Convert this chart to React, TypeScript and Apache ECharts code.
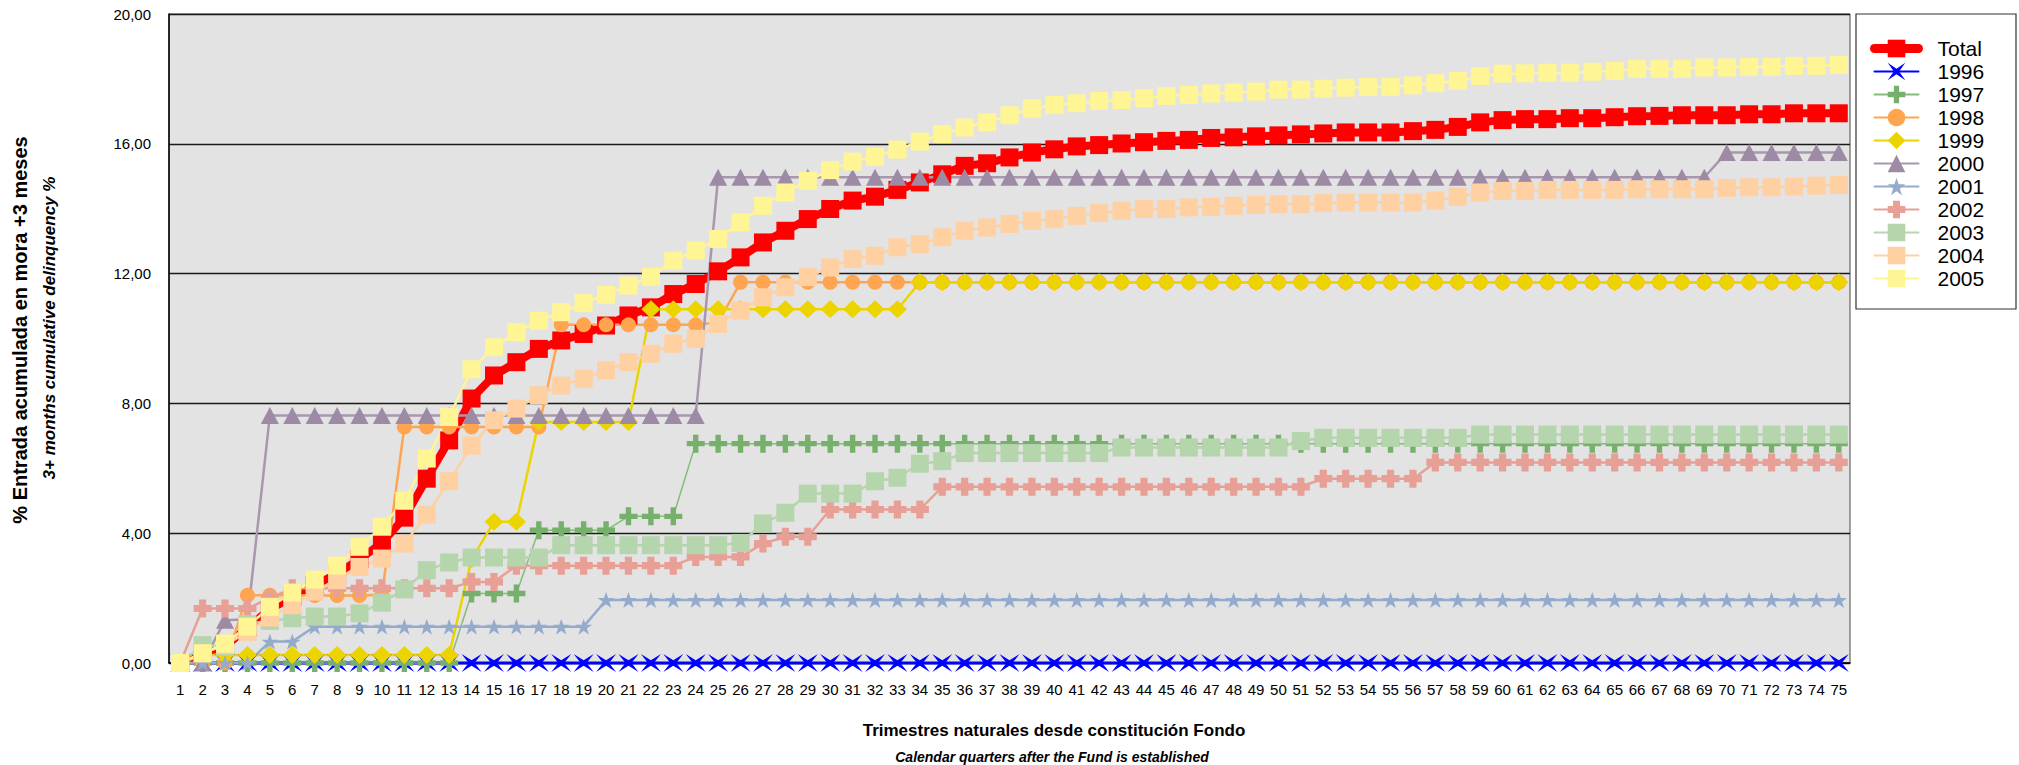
import React, { useEffect, useRef } from "react";
import * as echarts from "echarts";

const quarters = [
  "1","2","3","4","5","6","7","8","9","10","11","12","13","14","15","16","17","18","19","20",
  "21","22","23","24","25","26","27","28","29","30","31","32","33","34","35","36","37","38","39","40",
  "41","42","43","44","45","46","47","48","49","50","51","52","53","54","55","56","57","58","59","60",
  "61","62","63","64","65","66","67","68","69","70","71","72","73","74","75",
];

const yTicks = [0, 4, 8, 12, 16, 20];

const seriesNames = ["Total","1996","1997","1998","1999","2000","2001","2002","2003","2004","2005"];

const total = [
  0, 0.3, 0.5, 1.1, 1.65, 2.05, 2.4, 2.75, 3.2, 3.7,
  4.48, 5.68, 6.86, 8.15, 8.86, 9.27, 9.68, 9.94, 10.14, 10.4,
  10.71, 10.96, 11.37, 11.68, 12.07, 12.5, 12.96, 13.32, 13.68, 13.99,
  14.25, 14.37, 14.58, 14.81, 15.06, 15.32, 15.4, 15.58, 15.73, 15.83,
  15.92, 15.96, 16.01, 16.05, 16.09, 16.12, 16.18, 16.2, 16.23, 16.26,
  16.29, 16.32, 16.35, 16.35, 16.35, 16.39, 16.43, 16.52, 16.66, 16.73,
  16.76, 16.76, 16.79, 16.79, 16.82, 16.85, 16.86, 16.88, 16.88, 16.88,
  16.91, 16.91, 16.94, 16.94, 16.94,
];

const y1996 = [
  0, 0, 0, 0, 0, 0, 0, 0, 0, 0,
  0, 0, 0, 0, 0, 0, 0, 0, 0, 0,
  0, 0, 0, 0, 0, 0, 0, 0, 0, 0,
  0, 0, 0, 0, 0, 0, 0, 0, 0, 0,
  0, 0, 0, 0, 0, 0, 0, 0, 0, 0,
  0, 0, 0, 0, 0, 0, 0, 0, 0, 0,
  0, 0, 0, 0, 0, 0, 0, 0, 0, 0,
  0, 0, 0, 0, 0,
];

const y1997 = [
  0, 0, 0, 0, 0, 0, 0, 0, 0, 0,
  0, 0, 0, 2.14, 2.14, 2.14, 4.09, 4.09, 4.09, 4.09,
  4.52, 4.52, 4.52, 6.76, 6.76, 6.76, 6.76, 6.76, 6.76, 6.76,
  6.76, 6.76, 6.76, 6.76, 6.76, 6.76, 6.76, 6.76, 6.76, 6.76,
  6.76, 6.76, 6.76, 6.76, 6.76, 6.76, 6.76, 6.76, 6.76, 6.76,
  6.76, 6.76, 6.76, 6.76, 6.76, 6.76, 6.76, 6.76, 6.76, 6.76,
  6.76, 6.76, 6.76, 6.76, 6.76, 6.76, 6.76, 6.76, 6.76, 6.76,
  6.76, 6.76, 6.76, 6.76, 6.76,
];

const y1998 = [
  0, 0, 0, 2.09, 2.09, 2.09, 2.08, 2.08, 2.08, 2.1,
  7.27, 7.27, 7.27, 7.27, 7.27, 7.27, 7.27, 10.42, 10.42, 10.42,
  10.42, 10.42, 10.42, 10.42, 10.5, 11.73, 11.73, 11.73, 11.73, 11.73,
  11.73, 11.73, 11.73, 11.73, 11.73, 11.73, 11.73, 11.73, 11.73, 11.73,
  11.73, 11.73, 11.73, 11.73, 11.73, 11.73, 11.73, 11.73, 11.73, 11.73,
  11.73, 11.73, 11.73, 11.73, 11.73, 11.73, 11.73, 11.73, 11.73, 11.73,
  11.73, 11.73, 11.73, 11.73, 11.73, 11.73, 11.73, 11.73, 11.73, 11.73,
  11.73, 11.73, 11.73, 11.73, 11.73,
];

const y1999 = [
  0, 0.25, 0.25, 0.25, 0.25, 0.25, 0.25, 0.25, 0.25, 0.25,
  0.25, 0.25, 0.25, 3.2, 4.35, 4.35, 7.43, 7.43, 7.43, 7.43,
  7.43, 10.9, 10.9, 10.9, 10.9, 10.9, 10.9, 10.9, 10.9, 10.9,
  10.9, 10.9, 10.9, 11.73, 11.73, 11.73, 11.73, 11.73, 11.73, 11.73,
  11.73, 11.73, 11.73, 11.73, 11.73, 11.73, 11.73, 11.73, 11.73, 11.73,
  11.73, 11.73, 11.73, 11.73, 11.73, 11.73, 11.73, 11.73, 11.73, 11.73,
  11.73, 11.73, 11.73, 11.73, 11.73, 11.73, 11.73, 11.73, 11.73, 11.73,
  11.73, 11.73, 11.73, 11.73, 11.73,
];

const y2000 = [
  0, 0, 1.32, 1.35, 7.63, 7.63, 7.63, 7.63, 7.63, 7.63,
  7.63, 7.63, 7.63, 7.63, 7.63, 7.63, 7.63, 7.63, 7.63, 7.63,
  7.63, 7.63, 7.63, 7.63, 14.97, 14.97, 14.97, 14.97, 14.97, 14.97,
  14.97, 14.97, 14.97, 14.97, 14.97, 14.97, 14.97, 14.97, 14.97, 14.97,
  14.97, 14.97, 14.97, 14.97, 14.97, 14.97, 14.97, 14.97, 14.97, 14.97,
  14.97, 14.97, 14.97, 14.97, 14.97, 14.97, 14.97, 14.97, 14.97, 14.97,
  14.97, 14.97, 14.97, 14.97, 14.97, 14.97, 14.97, 14.97, 14.97, 15.73,
  15.73, 15.73, 15.73, 15.73, 15.73,
];

const y2001 = [
  0, 0, 0, 0, 0.66, 0.66, 1.12, 1.12, 1.12, 1.12,
  1.12, 1.12, 1.12, 1.12, 1.12, 1.12, 1.12, 1.12, 1.12, 1.94,
  1.94, 1.94, 1.94, 1.94, 1.94, 1.94, 1.94, 1.94, 1.94, 1.94,
  1.94, 1.94, 1.94, 1.94, 1.94, 1.94, 1.94, 1.94, 1.94, 1.94,
  1.94, 1.94, 1.94, 1.94, 1.94, 1.94, 1.94, 1.94, 1.94, 1.94,
  1.94, 1.94, 1.94, 1.94, 1.94, 1.94, 1.94, 1.94, 1.94, 1.94,
  1.94, 1.94, 1.94, 1.94, 1.94, 1.94, 1.94, 1.94, 1.94, 1.94,
  1.94, 1.94, 1.94, 1.94, 1.94,
];

const y2002 = [
  0, 1.68, 1.68, 1.68, 2.0, 2.3, 2.3, 2.3, 2.3, 2.3,
  2.3, 2.3, 2.3, 2.5, 2.5, 3.0, 3.0, 3.0, 3.0, 3.0,
  3.0, 3.0, 3.0, 3.27, 3.27, 3.27, 3.68, 3.89, 3.89, 4.73,
  4.73, 4.73, 4.73, 4.73, 5.43, 5.43, 5.43, 5.43, 5.43, 5.43,
  5.43, 5.43, 5.43, 5.43, 5.43, 5.43, 5.43, 5.43, 5.43, 5.43,
  5.43, 5.68, 5.68, 5.68, 5.68, 5.68, 6.18, 6.18, 6.18, 6.18,
  6.18, 6.18, 6.18, 6.18, 6.18, 6.18, 6.18, 6.18, 6.18, 6.18,
  6.18, 6.18, 6.18, 6.18, 6.18,
];

const y2003 = [
  0, 0.55, 0.5, 1.2, 1.3, 1.38, 1.43, 1.43, 1.53, 1.86,
  2.27, 2.86, 3.1, 3.25, 3.25, 3.25, 3.25, 3.63, 3.63, 3.63,
  3.63, 3.63, 3.63, 3.63, 3.63, 3.7, 4.3, 4.63, 5.22, 5.22,
  5.22, 5.6, 5.71, 6.14, 6.22, 6.47, 6.47, 6.47, 6.47, 6.47,
  6.47, 6.47, 6.64, 6.64, 6.64, 6.64, 6.64, 6.64, 6.64, 6.64,
  6.84, 6.94, 6.94, 6.94, 6.94, 6.94, 6.94, 6.94, 7.04, 7.04,
  7.04, 7.04, 7.04, 7.04, 7.04, 7.04, 7.04, 7.04, 7.04, 7.04,
  7.04, 7.04, 7.04, 7.04, 7.04,
];

const y2004 = [
  0, 0.3, 0.55, 0.96, 1.4, 1.78, 2.2, 2.55, 2.96, 3.22,
  3.68, 4.57, 5.6, 6.7, 7.48, 7.84, 8.25, 8.55, 8.76, 9.02,
  9.27, 9.53, 9.84, 9.99, 10.45, 10.86, 11.27, 11.58, 11.89, 12.19,
  12.45, 12.55, 12.81, 12.91, 13.12, 13.32, 13.42, 13.53, 13.63, 13.68,
  13.78, 13.87, 13.94, 13.99, 13.99, 14.04, 14.06, 14.09, 14.12, 14.14,
  14.14, 14.17, 14.19, 14.19, 14.19, 14.19, 14.25, 14.37, 14.5, 14.55,
  14.55, 14.58, 14.58, 14.58, 14.58, 14.6, 14.6, 14.6, 14.6, 14.64,
  14.66, 14.66, 14.68, 14.71, 14.73,
];

const y2005 = [
  0, 0.3, 0.6, 1.12, 1.73, 2.17, 2.57, 3.0, 3.58, 4.2,
  5.0, 6.3, 7.58, 9.05, 9.73, 10.19, 10.55, 10.81, 11.09, 11.35,
  11.63, 11.9, 12.4, 12.71, 13.07, 13.58, 14.09, 14.5, 14.86, 15.19,
  15.45, 15.6, 15.82, 16.07, 16.3, 16.5, 16.66, 16.88, 17.09, 17.2,
  17.25, 17.32, 17.35, 17.4, 17.47, 17.51, 17.55, 17.58, 17.61, 17.67,
  17.67, 17.7, 17.73, 17.75, 17.76, 17.8, 17.87, 17.94, 18.09, 18.16,
  18.17, 18.19, 18.19, 18.22, 18.25, 18.31, 18.31, 18.31, 18.35, 18.35,
  18.37, 18.37, 18.4, 18.4, 18.43,
];

const SYM_XSTAR = "path://M0,0L10,7L20,0L13,10L20,20L10,13L0,20L7,10Z";
const SYM_CROSS = "path://M7,0H13V7H20V13H13V20H7V13H0V7H7Z";
const SYM_FATCROSS = "path://M6,0H14V6H20V14H14V20H6V14H0V6H6Z";
const SYM_STAR5 = "path://M10,0L12.4,7.2L20,7.2L13.8,11.6L16.2,19L10,14.5L3.8,19L6.2,11.6L0,7.2L7.6,7.2Z";

const FONT = "'Liberation Sans', Arial, sans-serif";
const NARROW = "'Liberation Sans Narrow', 'Liberation Sans', Arial, sans-serif";

export default function App() {
  const ref = useRef<HTMLDivElement>(null);

  useEffect(() => {
    if (!ref.current) return;
    const chart = echarts.init(ref.current, undefined, { renderer: "svg" });

    const mk = (
      name: string,
      data: number[],
      color: string,
      lineColor: string,
      lineWidth: number,
      symbol: string,
      symbolSize: number | number[]
    ) => ({
      name,
      type: "line",
      data,
      symbol,
      symbolSize,
      symbolKeepAspect: false,
      showAllSymbol: true,
      clip: false,
      itemStyle: { color, borderWidth: 0 },
      lineStyle: { color: lineColor, width: lineWidth, cap: "round" },
      emphasis: { disabled: true },
    });

    const legendData = seriesNames.map((n, i) =>
      i === 0 ? { name: n, lineStyle: { width: 9, cap: "round" } } : { name: n }
    );

    const option: any = {
      animation: false,
      backgroundColor: "#ffffff",
      grid: {
        left: 169,
        right: 169,
        top: 14,
        bottom: 102,
        show: true,
        backgroundColor: "#e3e3e3",
        borderColor: "#4a4a4a",
        borderWidth: 1,
      },
      xAxis: {
        type: "category",
        data: quarters,
        boundaryGap: true,
        axisLine: { show: true, lineStyle: { color: "#000", width: 1.5 } },
        axisTick: { show: false },
        axisLabel: {
          interval: 0,
          margin: 19,
          color: "#000",
          fontSize: 15,
          fontFamily: NARROW,
        },
        splitLine: { show: false },
      },
      yAxis: {
        type: "value",
        min: yTicks[0],
        max: yTicks[yTicks.length - 1],
        interval: 4,
        axisLine: { show: true, lineStyle: { color: "#000", width: 1.5 } },
        axisTick: { show: false },
        axisLabel: {
          margin: 18,
          color: "#000",
          fontSize: 15,
          fontFamily: NARROW,
          formatter: (v: number) => v.toFixed(2).replace(".", ","),
        },
        splitLine: { show: true, lineStyle: { color: "#1a1a1a", width: 1.3 } },
      },
      legend: {
        orient: "vertical",
        left: 1870,
        top: 38,
        padding: 0,
        itemWidth: 44,
        itemHeight: 22,
        itemGap: 2,
        data: legendData,
        textStyle: {
          fontSize: 21,
          fontFamily: FONT,
          color: "#000",
          padding: [0, 0, 0, 14],
        },
        selectedMode: false,
        z: 10,
      },
      graphic: [
        {
          type: "rect",
          shape: { x: 1856, y: 14, width: 160, height: 295 },
          style: { fill: "#ffffff", stroke: "#333", lineWidth: 1.2 },
          z: 1,
        },
        {
          type: "text",
          x: 20,
          y: 330,
          rotation: Math.PI / 2,
          style: {
            text: "% Entrada acumulada en mora +3 meses",
            font: `bold 20px ${FONT}`,
            fill: "#000",
            align: "center",
            verticalAlign: "middle",
          },
        },
        {
          type: "text",
          x: 49,
          y: 328,
          rotation: Math.PI / 2,
          style: {
            text: "3+ months cumulative delinquency %",
            font: `italic bold 17px ${FONT}`,
            fill: "#000",
            align: "center",
            verticalAlign: "middle",
          },
        },
        {
          type: "text",
          x: 1054,
          y: 730,
          style: {
            text: "Trimestres naturales desde constitución Fondo",
            font: `bold 17px ${FONT}`,
            fill: "#000",
            align: "center",
            verticalAlign: "middle",
          },
        },
        {
          type: "text",
          x: 1052,
          y: 757,
          style: {
            text: "Calendar quarters after the Fund is established",
            font: `italic bold 14px ${FONT}`,
            fill: "#000",
            align: "center",
            verticalAlign: "middle",
          },
        },
      ],
      series: [
        mk(seriesNames[0], total, "#ff0000", "#ff0000", 8, "rect", [18, 18]),
        mk(seriesNames[1], y1996, "#0000ff", "#0000ff", 3, SYM_XSTAR, [20, 18]),
        mk(seriesNames[2], y1997, "#77b06c", "#86bb7a", 1.5, SYM_CROSS, [18, 18]),
        mk(seriesNames[3], y1998, "#ffa44f", "#ffa44f", 2.5, "circle", 15),
        mk(seriesNames[4], y1999, "#ecd400", "#ecd400", 2.5, "diamond", [19, 18]),
        mk(seriesNames[5], y2000, "#9d8aa4", "#a897ae", 2.5, "triangle", [18, 17]),
        mk(seriesNames[6], y2001, "#95abcc", "#95abcc", 2.5, SYM_STAR5, [17, 16]),
        mk(seriesNames[7], y2002, "#e8a096", "#e8a096", 2.5, SYM_FATCROSS, [18, 18]),
        mk(seriesNames[8], y2003, "#b5d5ad", "#b5d5ad", 2.5, "rect", [18, 18]),
        mk(seriesNames[9], y2004, "#ffd0a1", "#ffd0a1", 2.5, "rect", [18, 18]),
        mk(seriesNames[10], y2005, "#fff595", "#fff595", 2.5, "rect", [18, 18]),
      ],
    };

    chart.setOption(option);
    return () => chart.dispose();
  }, []);

  return (
    <div
      ref={ref}
      style={{ position: "fixed", left: 0, top: 0, width: 2019, height: 765, background: "#fff" }}
    />
  );
}
